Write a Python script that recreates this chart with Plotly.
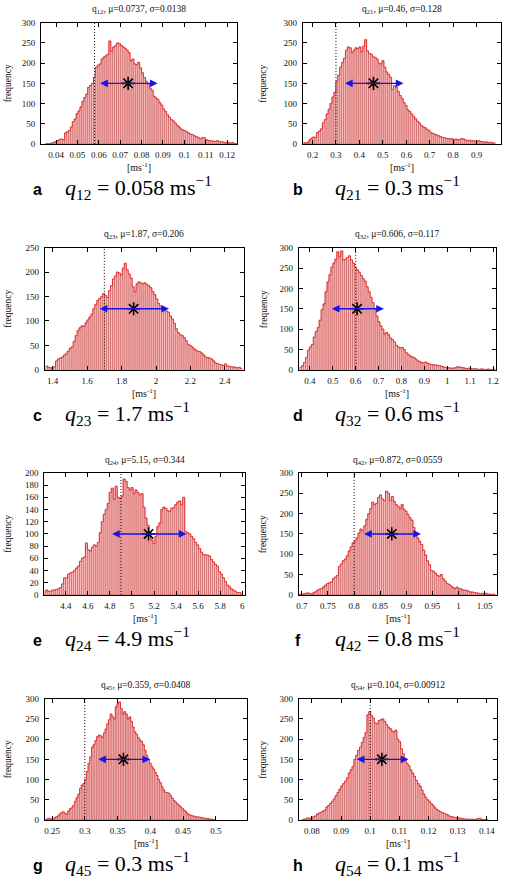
import numpy as np
import plotly.graph_objects as go

W, H = 505, 882

# ---------------- data ----------------
panel_letters = ["a", "b", "c", "d", "e", "f", "g", "h"]
rate_names = ["12", "21", "23", "32", "24", "42", "45", "54"]
mu_values = [0.0737, 0.46, 1.87, 0.606, 5.15, 0.872, 0.359, 0.104]
mu_text = ["0.0737", "0.46", "1.87", "0.606", "5.15", "0.872", "0.359", "0.104"]
sigma_values = [0.0138, 0.128, 0.206, 0.117, 0.344, 0.0559, 0.0408, 0.00912]
sigma_text = ["0.0138", "0.128", "0.206", "0.117", "0.344", "0.0559", "0.0408", "0.00912"]
true_values = [0.058, 0.3, 1.7, 0.6, 4.9, 0.8, 0.3, 0.1]
true_text = ["0.058", "0.3", "1.7", "0.6", "4.9", "0.8", "0.3", "0.1"]
marker_level = [150, 150, 125, 150, 100, 150, 150, 150]

# histogram bin limits (first edge, last edge), 100 bins each
bin_lo = [0.035, 0.16, 1.36, 0.355, 4.2, 0.695, 0.24, 0.0765]
bin_hi = [0.125, 0.98, 2.50, 1.21, 6.0, 1.07, 0.50, 0.1405]

counts_q12 = [1, 0, 1, 2, 4, 6, 8, 11, 12, 10, 27, 30, 33, 42, 55, 62, 75, 82, 92, 105,
              115, 123, 140, 145, 150, 165, 190, 195, 198, 210, 215, 218, 222, 255, 230, 240, 243, 250, 248, 244,
              240, 237, 232, 226, 206, 210, 198, 196, 202, 188, 176, 164, 155, 148, 138, 133, 118, 114, 110, 102,
              96, 86, 80, 72, 66, 60, 57, 52, 46, 42, 37, 34, 33, 30, 27, 24, 23, 20, 18, 16,
              13, 15, 16, 11, 9, 8, 7, 7, 6, 8, 5, 6, 4, 3, 4, 3, 2, 3, 1, 1]
counts_q21 = [3, 2, 4, 10, 14, 17, 16, 28, 32, 37, 52, 60, 74, 86, 100, 116, 128, 155, 170, 190,
              202, 212, 232, 240, 238, 226, 232, 238, 236, 240, 228, 242, 258, 230, 224, 222, 216, 214, 210, 200,
              198, 206, 190, 178, 172, 165, 135, 144, 140, 130, 120, 112, 102, 95, 84, 80, 74, 68, 62, 56,
              52, 46, 42, 40, 36, 33, 28, 26, 24, 22, 20, 18, 16, 15, 14, 13, 12, 13, 10, 12,
              10, 11, 13, 12, 10, 8, 9, 7, 8, 6, 7, 8, 6, 5, 4, 5, 3, 4, 2, 3]
counts_q23 = [8, 5, 4, 5, 6, 18, 22, 24, 26, 30, 33, 38, 44, 47, 58, 70, 80, 86, 90, 89,
              96, 102, 108, 114, 125, 134, 142, 146, 150, 156, 152, 148, 162, 172, 186, 192, 200, 198, 194, 208,
              218, 205, 196, 188, 170, 160, 176, 180, 178, 176, 178, 175, 172, 168, 160, 154, 145, 136, 130, 126,
              122, 120, 118, 110, 104, 95, 84, 76, 72, 70, 66, 60, 52, 50, 47, 43, 40, 38, 37, 34,
              30, 26, 25, 24, 22, 18, 14, 13, 11, 10, 9, 12, 8, 7, 6, 6, 5, 4, 5, 3]
counts_q32 = [6, 10, 18, 30, 48, 56, 62, 80, 94, 104, 122, 148, 162, 192, 216, 234, 252, 262, 272, 290,
              278, 292, 270, 272, 276, 280, 270, 262, 252, 246, 240, 232, 224, 218, 204, 192, 178, 165, 150, 132,
              118, 108, 100, 88, 92, 86, 78, 74, 68, 60, 56, 54, 55, 50, 42, 38, 34, 32, 30, 26,
              22, 20, 18, 17, 19, 16, 14, 13, 12, 12, 11, 10, 9, 7, 6, 5, 5, 4, 4, 5,
              7, 7, 6, 5, 4, 3, 4, 3, 2, 3, 2, 1, 2, 2, 1, 1, 2, 1, 1, 2]
counts_q24 = [5, 8, 6, 6, 8, 8, 9, 10, 12, 18, 28, 28, 34, 36, 37, 40, 44, 47, 55, 60,
              62, 85, 74, 72, 78, 82, 80, 86, 102, 120, 132, 140, 150, 168, 175, 157, 178, 160, 158, 162,
              190, 186, 176, 172, 176, 166, 172, 168, 164, 166, 144, 126, 114, 104, 90, 84, 96, 112, 118, 140,
              144, 142, 138, 137, 142, 143, 148, 152, 154, 148, 160, 104, 102, 100, 96, 92, 86, 82, 76, 70,
              66, 66, 65, 64, 58, 54, 50, 47, 38, 34, 28, 22, 16, 14, 10, 8, 6, 4, 4, 3]
counts_q42 = [2, 1, 3, 4, 5, 3, 2, 6, 8, 12, 14, 16, 20, 24, 28, 30, 32, 40, 44, 48,
              70, 76, 84, 88, 96, 108, 118, 128, 132, 140, 152, 162, 158, 170, 186, 200, 212, 228, 222, 225,
              240, 246, 236, 232, 255, 250, 232, 242, 230, 222, 218, 212, 222, 210, 206, 198, 190, 184, 166, 150,
              140, 132, 124, 110, 98, 84, 74, 60, 58, 54, 48, 46, 50, 40, 34, 28, 26, 22, 18, 16,
              19, 15, 15, 12, 12, 11, 9, 7, 7, 6, 5, 4, 3, 4, 3, 4, 2, 2, 1, 2]
counts_q45 = [2, 3, 4, 2, 2, 5, 8, 10, 15, 18, 20, 16, 14, 22, 28, 30, 36, 46, 55, 64,
              78, 86, 90, 100, 120, 140, 156, 180, 186, 196, 206, 210, 208, 204, 215, 225, 238, 248, 262, 255,
              250, 280, 288, 292, 276, 262, 268, 262, 250, 255, 244, 230, 218, 212, 204, 198, 194, 186, 172, 160,
              150, 140, 132, 126, 118, 110, 100, 92, 82, 74, 68, 68, 66, 60, 54, 48, 44, 40, 36, 32,
              28, 24, 20, 15, 13, 11, 10, 9, 8, 7, 7, 6, 5, 4, 4, 3, 2, 2, 1, 1]
counts_q54 = [1, 2, 3, 5, 4, 5, 8, 10, 15, 17, 19, 22, 24, 32, 36, 41, 46, 52, 60, 68,
              76, 84, 90, 96, 104, 116, 124, 132, 150, 160, 172, 180, 192, 204, 216, 260, 268, 258, 252, 240,
              238, 246, 248, 250, 244, 236, 230, 226, 220, 218, 222, 200, 194, 176, 164, 148, 140, 134, 124, 116,
              108, 98, 90, 84, 74, 64, 56, 50, 46, 40, 36, 30, 26, 23, 20, 18, 16, 14, 12, 9,
              8, 7, 6, 5, 5, 4, 3, 2, 2, 2, 1, 2, 1, 2, 3, 4, 2, 1, 1, 1]
all_counts = [counts_q12, counts_q21, counts_q23, counts_q32,
              counts_q24, counts_q42, counts_q45, counts_q54]

# axis ranges and tick labels
x_ranges = [[0.033, 0.1248], [0.158, 1.004], [1.355, 2.51], [0.351, 1.212],
            [4.205, 6.027], [0.694, 1.073], [0.239, 0.548], [0.0755, 0.1434]]
y_max = [300, 300, 250, 300, 200, 300, 300, 300]
x_ticks = [[0.04, 0.05, 0.06, 0.07, 0.08, 0.09, 0.1, 0.11, 0.12],
           [0.2, 0.3, 0.4, 0.5, 0.6, 0.7, 0.8, 0.9],
           [1.4, 1.6, 1.8, 2, 2.2, 2.4],
           [0.4, 0.5, 0.6, 0.7, 0.8, 0.9, 1, 1.1, 1.2],
           [4.4, 4.6, 4.8, 5, 5.2, 5.4, 5.6, 5.8, 6],
           [0.7, 0.75, 0.8, 0.85, 0.9, 0.95, 1, 1.05],
           [0.25, 0.3, 0.35, 0.4, 0.45, 0.5],
           [0.08, 0.09, 0.1, 0.11, 0.12, 0.13, 0.14]]
y_tick_step = [50, 50, 50, 50, 20, 50, 50, 50]

# ---------------- layout geometry (pixels) ----------------
plot_left = [39.5, 303.7, 43.3, 299.7, 42.7, 299.7, 43.3, 299.7]
plot_right = [237.7, 504.0, 244.3, 498.7, 245.7, 499.7, 247.7, 499.7]
row_top = [18.0, 245.5, 473.3, 701.7]
row_bottom = [140.5, 369.0, 596.7, 824.3]
ylabel_x = [6, 264]
letter_x = [36, 299]
formula_x = [62, 334]

SERIF = "Liberation Serif"
fig = go.Figure()
layout = dict(width=W, height=H, margin=dict(l=0, r=0, t=0, b=0), autosize=False,
              paper_bgcolor="white", plot_bgcolor="white", showlegend=False,
              barmode="overlay")
annotations = []

def px_x(v):
    return v / W

def px_y(v):
    return 1 - v / H

for k in range(8):
    row, col = k // 2, k % 2
    sfx = "" if k == 0 else str(k + 1)
    xa, ya = "x" + sfx, "y" + sfx
    top, bot = row_top[row], row_bottom[row]
    left, right = plot_left[k], plot_right[k]

    counts = np.array(all_counts[k], dtype=float)
    nb = len(counts)
    edges = np.linspace(bin_lo[k], bin_hi[k], nb + 1)
    centers = 0.5 * (edges[:-1] + edges[1:])
    width = edges[1] - edges[0]

    fig.add_trace(go.Bar(x=centers, y=counts, width=width, xaxis=xa, yaxis=ya,
                         marker=dict(color="rgb(255,190,190)",
                                     line=dict(color="rgb(185,70,70)", width=0.5)),
                         hoverinfo="skip"))
    # red outline along the top of the bins
    fig.add_trace(go.Scatter(x=centers, y=counts, mode="lines", xaxis=xa, yaxis=ya,
                             line=dict(color="rgb(230,40,40)", width=0.9, shape="hvh"),
                             hoverinfo="skip"))
    # dotted line at the true value
    fig.add_trace(go.Scatter(x=[true_values[k], true_values[k]], y=[0, y_max[k]],
                             mode="lines", xaxis=xa, yaxis=ya, hoverinfo="skip",
                             line=dict(color="black", width=1, dash="1px,2px")))
    # mean marker
    fig.add_trace(go.Scatter(x=[mu_values[k]], y=[marker_level[k]], mode="markers",
                             xaxis=xa, yaxis=ya, hoverinfo="skip",
                             marker=dict(symbol="asterisk-open", size=11, color="black",
                                         line=dict(color="black", width=1.6))))
    # +/- sigma double arrow
    annotations.append(dict(x=mu_values[k] + sigma_values[k], y=marker_level[k],
                            ax=mu_values[k] - sigma_values[k], ay=marker_level[k],
                            xref=xa, yref=ya, axref=xa, ayref=ya, text="",
                            showarrow=True, arrowhead=2, arrowsize=1.1, arrowwidth=1.4,
                            arrowside="end+start", arrowcolor="rgb(20,20,235)"))

    tick_font = dict(family=SERIF, size=9, color="#111")
    layout["xaxis" + sfx] = dict(domain=[px_x(left), px_x(right)], anchor=ya,
                                 range=x_ranges[k], tickvals=x_ticks[k],
                                 ticktext=[f"{v:g}" for v in x_ticks[k]],
                                 ticks="inside", ticklen=4, tickwidth=1, tickcolor="black",
                                 showline=True, linecolor="black", linewidth=1, mirror="ticks",
                                 showgrid=False, zeroline=False, tickfont=tick_font,
                                 ticklabelstandoff=2, fixedrange=True)
    ytv = list(range(0, y_max[k] + 1, y_tick_step[k]))
    layout["yaxis" + sfx] = dict(domain=[px_y(bot), px_y(top)], anchor=xa,
                                 range=[0, y_max[k]], tickvals=ytv,
                                 ticks="inside", ticklen=4, tickwidth=1, tickcolor="black",
                                 showline=True, linecolor="black", linewidth=1, mirror="ticks",
                                 showgrid=False, zeroline=False, tickfont=tick_font,
                                 ticklabelstandoff=3, fixedrange=True)

    cx = 0.5 * (left + right)
    # panel title
    annotations.append(dict(x=px_x(cx), y=px_y(top - 13), xref="paper", yref="paper",
                            text=f"q<sub>{rate_names[k]}</sub>, μ={mu_text[k]}, σ={sigma_text[k]}",
                            showarrow=False, xanchor="center", yanchor="middle",
                            font=dict(family=SERIF, size=9.5, color="#111")))
    # x-axis label
    annotations.append(dict(x=px_x(cx), y=px_y(bot + 23), xref="paper", yref="paper",
                            text="[ms<sup>-1</sup>]", showarrow=False,
                            xanchor="center", yanchor="middle",
                            font=dict(family=SERIF, size=10, color="#111")))
    # y-axis label
    annotations.append(dict(x=px_x(ylabel_x[col]), y=px_y(0.5 * (top + bot)),
                            xref="paper", yref="paper", text="frequency", textangle=-90,
                            showarrow=False, xanchor="center", yanchor="middle",
                            font=dict(family=SERIF, size=9.5, color="#111")))
    # caption letter
    annotations.append(dict(x=px_x(letter_x[col]), y=px_y(bot + 46), xref="paper", yref="paper",
                            text=f"<b>{panel_letters[k]}</b>", showarrow=False,
                            xanchor="center", yanchor="middle",
                            font=dict(family="Liberation Sans", size=16, color="black")))
    # caption formula
    annotations.append(dict(x=px_x(formula_x[col]), y=px_y(bot + 44), xref="paper", yref="paper",
                            text=f"<i>q</i><sub>{rate_names[k]}</sub> = {true_text[k]} ms<sup>−1</sup>",
                            showarrow=False, xanchor="left", yanchor="middle",
                            font=dict(family=SERIF, size=22, color="black")))

layout["annotations"] = annotations
fig.update_layout(**layout)
fig.write_html("out.html", config={"displayModeBar": False},
               post_script="document.body.style.margin='0';document.body.style.overflow='hidden';")
